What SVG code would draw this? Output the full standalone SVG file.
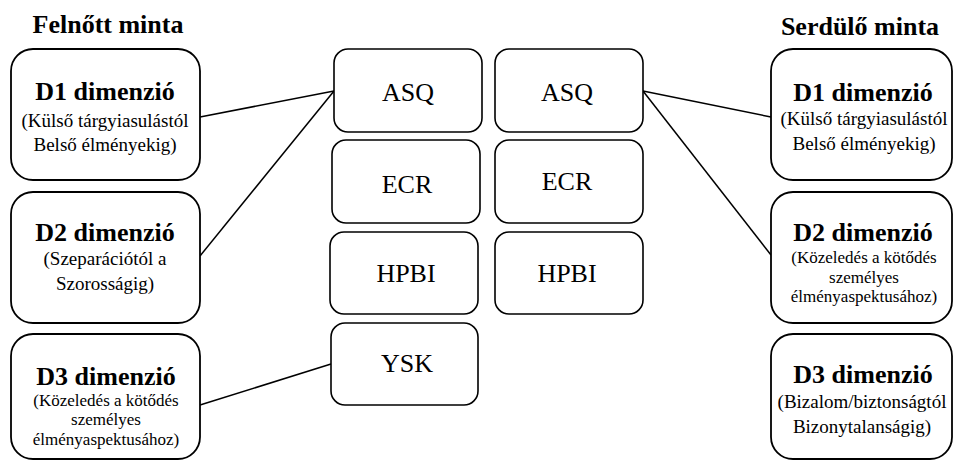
<svg xmlns="http://www.w3.org/2000/svg" width="953" height="461" viewBox="0 0 953 461" font-family="Liberation Serif, DejaVu Serif, serif">
<style>
.big{fill:#fff;stroke:#000;stroke-width:1.8}
.sm{fill:#fff;stroke:#000;stroke-width:1.6}
text{fill:#000;text-anchor:middle}
.h{font-size:26px;font-weight:bold}
.t{font-size:26px;font-weight:bold}
.s{font-size:19px}
.x{font-size:17px}
.m{font-size:26px}
.c{fill:none;stroke:#000;stroke-width:1.5}
</style>
<rect width="953" height="461" fill="#fff"/>
<text class="h" x="108" y="33">Felnőtt minta</text>
<text class="h" x="860" y="35">Serdülő minta</text>
<g id="connectors">
<line class="c" x1="200" y1="117" x2="334" y2="91"/>
<line class="c" x1="200" y1="256" x2="334" y2="91"/>
<line class="c" x1="200" y1="405" x2="331" y2="364"/>
<line class="c" x1="643" y1="91" x2="771" y2="117"/>
<line class="c" x1="643" y1="91" x2="771" y2="255"/>
</g>
<g id="l-d1">
<rect class="big" x="11" y="49" width="189" height="131" rx="22"/>
<text class="t" x="105" y="100">D1 dimenzió</text>
<text class="s" x="105" y="127">(Külső tárgyiasulástól</text>
<text class="s" x="105" y="151">Belső élményekig)</text>
</g>
<g id="l-d2">
<rect class="big" x="11" y="192" width="189" height="131" rx="22"/>
<text class="t" x="105" y="241">D2 dimenzió</text>
<text class="s" x="105" y="265">(Szeparációtól a</text>
<text class="s" x="105" y="290">Szorosságig)</text>
</g>
<g id="l-d3">
<rect class="big" x="11" y="334" width="189" height="125" rx="22"/>
<text class="t" x="106" y="385">D3 dimenzió</text>
<text class="x" x="106" y="406">(Közeledés a kötődés</text>
<text class="x" x="106" y="425">személyes</text>
<text class="x" x="106" y="445">élményaspektusához)</text>
</g>
<g id="l-asq">
<rect class="sm" x="334" y="49" width="148" height="83" rx="14"/>
<text class="m" x="408" y="101">ASQ</text>
</g>
<g id="l-ecr">
<rect class="sm" x="332" y="140" width="148" height="83" rx="14"/>
<text class="m" x="407" y="193">ECR</text>
</g>
<g id="l-hpbi">
<rect class="sm" x="330" y="232" width="148" height="82" rx="14"/>
<text class="m" x="406" y="282">HPBI</text>
</g>
<g id="l-ysk">
<rect class="sm" x="331" y="323" width="147" height="82" rx="14"/>
<text class="m" x="407" y="372">YSK</text>
</g>
<g id="r-asq">
<rect class="sm" x="495" y="49" width="148" height="83" rx="14"/>
<text class="m" x="567" y="101">ASQ</text>
</g>
<g id="r-ecr">
<rect class="sm" x="495" y="140" width="148" height="83" rx="14"/>
<text class="m" x="567" y="190">ECR</text>
</g>
<g id="r-hpbi">
<rect class="sm" x="495" y="232" width="148" height="82" rx="14"/>
<text class="m" x="567" y="282">HPBI</text>
</g>
<g id="r-d1">
<rect class="big" x="771" y="49" width="181" height="131" rx="22"/>
<text class="t" x="863" y="101">D1 dimenzió</text>
<text class="s" x="864" y="125">(Külső tárgyiasulástól</text>
<text class="s" x="864" y="150">Belső élményekig)</text>
</g>
<g id="r-d2">
<rect class="big" x="771" y="192" width="181" height="131" rx="22"/>
<text class="t" x="863" y="241">D2 dimenzió</text>
<text class="x" x="864" y="263">(Közeledés a kötődés</text>
<text class="x" x="864" y="283">személyes</text>
<text class="x" x="864" y="302">élményaspektusához)</text>
</g>
<g id="r-d3">
<rect class="big" x="771" y="334" width="181" height="125" rx="22"/>
<text class="t" x="863" y="383">D3 dimenzió</text>
<text class="s" x="862" y="408">(Bizalom/biztonságtól</text>
<text class="s" x="862" y="433">Bizonytalanságig)</text>
</g>
</svg>
